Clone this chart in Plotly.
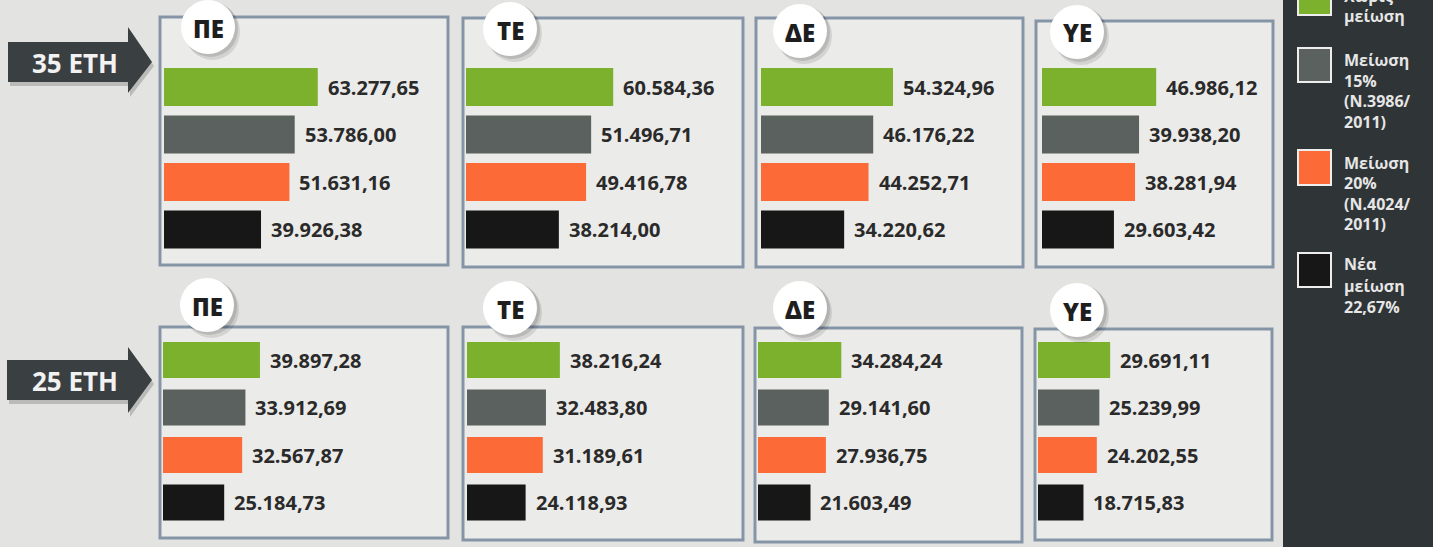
import plotly.graph_objects as go

W, H = 1433, 547

# ---------------- data ----------------
groups = ["ΠΕ", "ΤΕ", "ΔΕ", "ΥΕ"]
series_names = ["Χωρίς μείωση", "Μείωση 15% (Ν.3986/2011)",
                "Μείωση 20% (Ν.4024/2011)", "Νέα μείωση 22,67%"]
series_colors = ["#7cb12d", "#5b615f", "#fc6a37", "#171717"]
years = ["35 ΕΤΗ", "25 ΕΤΗ"]

no_cut_35 = [63277.65, 60584.36, 54324.96, 46986.12]
cut15_35 = [53786.00, 51496.71, 46176.22, 39938.20]
cut20_35 = [51631.16, 49416.78, 44252.71, 38281.94]
newcut_35 = [39926.38, 38214.00, 34220.62, 29603.42]

no_cut_25 = [39897.28, 38216.24, 34284.24, 29691.11]
cut15_25 = [33912.69, 32483.80, 29141.60, 25239.99]
cut20_25 = [32567.87, 31189.61, 27936.75, 24202.55]
newcut_25 = [25184.73, 24118.93, 21603.49, 18715.83]

legend_lines = [["Χωρίς", "μείωση"],
                ["Μείωση", "15%", "(Ν.3986/", "2011)"],
                ["Μείωση", "20%", "(Ν.4024/", "2011)"],
                ["Νέα", "μείωση", "22,67%"]]

rows = [[no_cut_35, cut15_35, cut20_35, newcut_35],
        [no_cut_25, cut15_25, cut20_25, newcut_25]]

# ---------------- geometry (pixels) ----------------
# (box left, box right, box top, box bottom, bar start)
boxes = [
    [(160, 448, 17, 265, 164), (463, 743, 18, 267, 466),
     (756, 1023, 18, 267, 761), (1036, 1273, 21, 267, 1042)],
    [(160, 448, 327, 538, 163), (463, 743, 327, 540, 467),
     (755, 1022, 328, 542, 758), (1035, 1272, 329, 540, 1038)],
]
row_ydom = [(63.25, 253.25), (336.25, 526.25)]
row_barw = [0.80, 0.76]
circles = [[(208, 27), (510, 29), (800, 31), (1077, 32)],
           [(207, 305), (510, 308), (800, 308), (1077, 310)]]
R = 27
px_per_unit = 2.43 / 1000.0


def fx(x):
    return x / W


def fy(y):
    return 1 - y / H


def fmt(v):
    s = f"{v:,.2f}"
    return s.replace(",", "X").replace(".", ",").replace("X", ".")


FONT = "Open Sans"
fig = go.Figure()
shapes = []
annotations = []

# background panels (fill + border)
for r in range(2):
    for c in range(4):
        l, rr, t, b, s = boxes[r][c]
        shapes.append(dict(type="rect", xref="paper", yref="paper",
                           x0=fx(l), x1=fx(rr), y0=fy(b), y1=fy(t),
                           fillcolor="#ebebe9", line=dict(color="#8595a7", width=3),
                           layer="below"))

k = 0
for r in range(2):
    for c in range(4):
        k += 1
        l, rr, t, b, s = boxes[r][c]
        xa = "xaxis" if k == 1 else f"xaxis{k}"
        ya = "yaxis" if k == 1 else f"yaxis{k}"
        xr = "x" if k == 1 else f"x{k}"
        yr = "y" if k == 1 else f"y{k}"
        vals = [rows[r][i][c] for i in range(4)]
        fig.add_trace(go.Bar(x=vals, y=series_names, orientation="h",
                             marker=dict(color=series_colors, line=dict(width=0)),
                             width=row_barw[r], xaxis=xr, yaxis=yr,
                             showlegend=False, hoverinfo="skip"))
        y0, y1 = row_ydom[r]
        fig.update_layout(**{
            xa: dict(domain=[fx(s), fx(rr)], range=[0, (rr - s) / px_per_unit],
                     visible=False, fixedrange=True, anchor=yr),
            ya: dict(domain=[fy(y1), fy(y0)], type="category",
                     categoryorder="array", categoryarray=series_names,
                     range=[3.5, -0.5], visible=False, fixedrange=True, anchor=xr),
        })
        for i in range(4):
            annotations.append(dict(xref=xr, yref=yr, x=vals[i], y=series_names[i],
                                    text=fmt(vals[i]), showarrow=False,
                                    xanchor="left", yanchor="middle", xshift=8,
                                    font=dict(family=FONT, size=20, color="#2a2a2a",
                                              weight=700)))

# circles with group names
for r in range(2):
    for c in range(4):
        cx, cy = circles[r][c]
        shapes.append(dict(type="circle", xref="paper", yref="paper",
                           x0=fx(cx - R + 4), x1=fx(cx + R + 5), y0=fy(cy + R + 6), y1=fy(cy - R + 3),
                           fillcolor="rgba(0,0,0,0.10)", line=dict(width=0), layer="above"))
        shapes.append(dict(type="circle", xref="paper", yref="paper",
                           x0=fx(cx - R + 2), x1=fx(cx + R + 3), y0=fy(cy + R + 3), y1=fy(cy - R + 1),
                           fillcolor="rgba(0,0,0,0.12)", line=dict(width=0), layer="above"))
        shapes.append(dict(type="circle", xref="paper", yref="paper",
                           x0=fx(cx - R), x1=fx(cx + R), y0=fy(cy + R), y1=fy(cy - R),
                           fillcolor="#ffffff", line=dict(width=0), layer="above"))
        annotations.append(dict(xref="paper", yref="paper", x=fx(cx), y=fy(cy + 1),
                                text=groups[c], showarrow=False, xanchor="center",
                                yanchor="middle",
                                font=dict(family=FONT, size=24, color="#1e1e1e", weight=800)))

# arrows
arrow_geo = [dict(rx0=8, rx1=128, ry0=42, ry1=82, hy0=27, hy1=93, tip=152, cy=62),
             dict(rx0=7, rx1=128, ry0=360, ry1=400, hy0=347, hy1=413, tip=152, cy=380)]
for i, g in enumerate(arrow_geo):
    def path(dx=0, dy=0):
        pts = [(g["rx0"], g["ry0"]), (g["rx1"], g["ry0"]), (g["rx1"], g["hy0"]),
               (g["tip"], g["cy"]), (g["rx1"], g["hy1"]), (g["rx1"], g["ry1"]),
               (g["rx0"], g["ry1"])]
        return "M " + " L ".join(f"{fx(x + dx):.5f},{fy(y + dy):.5f}" for x, y in pts) + " Z"
    shapes.append(dict(type="path", xref="paper", yref="paper", path=path(2, 4),
                       fillcolor="rgba(0,0,0,0.18)", line=dict(width=0), layer="above"))
    shapes.append(dict(type="path", xref="paper", yref="paper", path=path(),
                       fillcolor="#3a3f42", line=dict(width=0), layer="above"))
    annotations.append(dict(xref="paper", yref="paper", x=fx(75), y=fy(g["cy"] + 1),
                            text=years[i], showarrow=False, xanchor="center", yanchor="middle",
                            font=dict(family=FONT, size=26, color="#f2f2f2", weight=700)))

# legend panel
shapes.append(dict(type="rect", xref="paper", yref="paper", x0=fx(1283), x1=1.0,
                   y0=0, y1=1, fillcolor="#2f3437", line=dict(width=0), layer="above"))
sw = [(-20, 15), (48, 82), (150, 185), (253, 287)]
line_y = [[-4, 16], [60, 81, 101, 122], [163, 183, 204, 224], [264, 286, 307]]
for i in range(4):
    t0, t1 = sw[i]
    shapes.append(dict(type="rect", xref="paper", yref="paper",
                       x0=fx(1298), x1=fx(1331), y0=fy(t1), y1=fy(t0),
                       fillcolor=series_colors[i], line=dict(color="#eeeeee", width=2),
                       layer="above"))
    for j, txt in enumerate(legend_lines[i]):
        annotations.append(dict(xref="paper", yref="paper", x=fx(1342), y=fy(line_y[i][j]),
                                text=txt, showarrow=False, xanchor="left", yanchor="middle",
                                font=dict(family=FONT, size=16, color="#e6e6e6", weight=700)))

fig.update_layout(width=W, height=H, autosize=False,
                  margin=dict(l=0, r=0, t=0, b=0),
                  paper_bgcolor="#e3e3e1", plot_bgcolor="rgba(0,0,0,0)",
                  shapes=shapes, annotations=annotations, bargap=0.2)

fig.write_html("out.html", include_plotlyjs=True,
               config={"displayModeBar": False},
               post_script="document.body.style.margin='0px';"
                           "document.body.style.overflow='hidden';")
